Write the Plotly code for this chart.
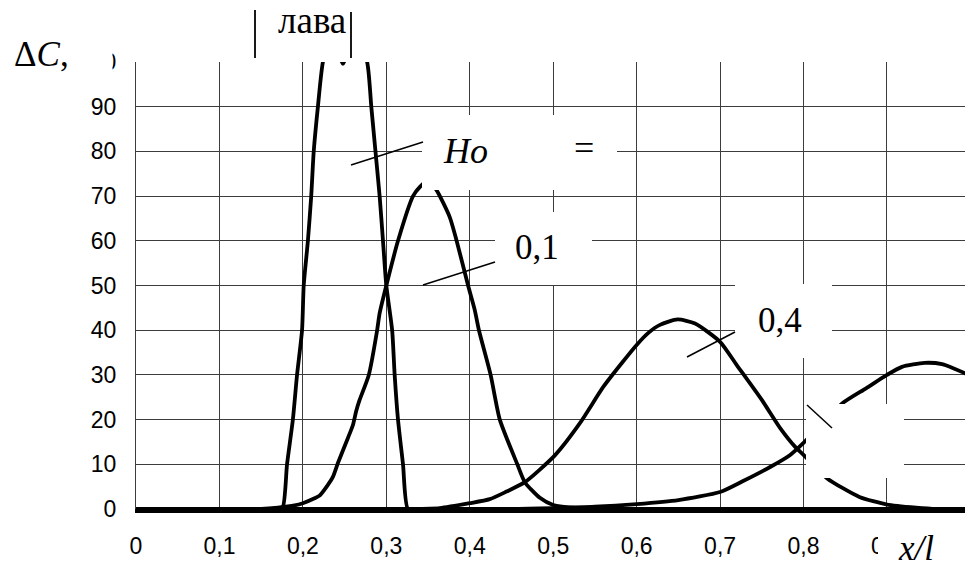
import plotly.graph_objects as go

# ---------------- data ----------------
x_ticks = [0, 0.1, 0.2, 0.3, 0.4, 0.5, 0.6, 0.7, 0.8, 0.9]
x_ticktext = ["0", "0,1", "0,2", "0,3", "0,4", "0,5", "0,6", "0,7", "0,8", "0,9"]
y_ticks = [0, 10, 20, 30, 40, 50, 60, 70, 80, 90, 100]
y_ticktext = ["0", "10", "20", "30", "40", "50", "60", "70", "80", "90", "100"]

# Ho = 0 (narrow peak, clipped above 100)
xa = [0, 0.17, 0.176, 0.181, 0.188, 0.193, 0.199, 0.201, 0.206, 0.21, 0.213, 0.218,
      0.224, 0.235, 0.248, 0.262, 0.277, 0.282, 0.287, 0.292, 0.296, 0.300, 0.307,
      0.310, 0.314, 0.320, 0.326, 0.34, 1.0]
ya = [0, 0, 0.5, 10, 20, 30, 40, 50, 60, 70, 80, 90,
      100, 107, 99.6, 107, 100, 90, 80, 70, 60, 50, 40,
      30, 20, 10, 0, 0, 0]

# Ho = 0,1
xb = [0, 0.15, 0.17, 0.19, 0.2, 0.214, 0.22, 0.23, 0.236, 0.242, 0.254, 0.26, 0.264,
      0.268, 0.279, 0.289, 0.292, 0.300, 0.314, 0.332, 0.34, 0.35, 0.36, 0.376, 0.384,
      0.398, 0.406, 0.411, 0.425, 0.436, 0.457, 0.466, 0.484, 0.5, 0.53, 0.56, 1.0]
yb = [0, 0, 0.3, 0.8, 1.3, 2.4, 3, 5.4, 7.2, 10.3, 15.9, 18.8, 22,
      24.4, 30, 40, 43.8, 50, 60, 70, 72, 73.5, 71.4, 65.3, 60.2,
      50, 44.5, 40, 30, 20, 10, 6, 2.5, 0.9, 0.2, 0, 0]

# Ho = 0,4
xc = [0, 0.33, 0.364, 0.4, 0.424, 0.444, 0.466, 0.502, 0.532, 0.56, 0.582, 0.6, 0.614,
      0.628, 0.649, 0.67, 0.7, 0.72, 0.75, 0.772, 0.79, 0.8, 0.828, 0.867, 0.9, 0.935,
      0.96, 1.0]
yc = [0, 0, 0.2, 1.3, 2.2, 3.9, 6, 12, 19.2, 27.3, 32.6, 36.7, 39.4,
      41.2, 42.4, 41.5, 37.4, 32.2, 24.4, 18.1, 13.9, 12.1, 6.9, 2.7, 1, 0.3,
      0, 0]

# Ho = 1 (hidden label)
xd = [0, 0.45, 0.5, 0.55, 0.6, 0.65, 0.7, 0.727, 0.76, 0.784, 0.8, 0.847, 0.875, 0.9,
      0.918, 0.945, 0.966, 0.993, 1.0]
yd = [0, 0, 0.2, 0.5, 1.1, 2, 3.8, 6.2, 9.4, 12.1, 14.8, 23.7, 27, 30,
      31.8, 32.7, 32.4, 30.4, 29.5]

# ---------------- geometry (pixels of the 965x564 picture) ----------------
W, H = 965, 564
L, R, T, B = 136, 965, 62, 509
X_PER_UNIT = 834.4
X_MAX = (R - L) / X_PER_UNIT
Y_MAX = 100


def dx(px):  # pixel -> data x
    return (px - L) / X_PER_UNIT


def dy(py):  # pixel -> data y
    return (B - py) / (B - T) * Y_MAX


def qx(px):  # pixel -> paper x
    return (px - L) / (R - L)


def qy(py):  # pixel -> paper y
    return (B - py) / (B - T)


SERIF = "Liberation Serif"
SANS = "Liberation Sans"

fig = go.Figure()
for xs, ys in [(xa, ya), (xb, yb), (xc, yc), (xd, yd)]:
    fig.add_trace(go.Scatter(x=xs, y=ys, mode="lines",
                             line=dict(color="black", width=3.8, shape="spline",
                                       smoothing=0.6),
                             showlegend=False, hoverinfo="skip"))

shapes = []


def mask_data(x0, y0, x1, y1):
    shapes.append(dict(type="rect", xref="x", yref="y", x0=dx(x0), x1=dx(x1),
                       y0=dy(y1), y1=dy(y0), fillcolor="white",
                       line=dict(width=0), layer="above"))


def mask_paper(x0, y0, x1, y1):
    shapes.append(dict(type="rect", xref="paper", yref="paper", x0=qx(x0), x1=qx(x1),
                       y0=qy(y1), y1=qy(y0), fillcolor="white",
                       line=dict(width=0), layer="above"))


def seg_data(x0, y0, x1, y1, w=1.5):
    shapes.append(dict(type="line", xref="x", yref="y", x0=dx(x0), y0=dy(y0),
                       x1=dx(x1), y1=dy(y1), line=dict(color="black", width=w),
                       layer="above"))


def seg_paper(x0, y0, x1, y1, w=1.5):
    shapes.append(dict(type="line", xref="paper", yref="paper", x0=qx(x0), y0=qy(y0),
                       x1=qx(x1), y1=qy(y1), line=dict(color="black", width=w),
                       layer="above"))


# label boxes covering grid and curves
mask_data(422, 115, 617, 190)   # Ho =
mask_data(495, 212, 592, 285)   # 0,1
mask_data(735, 284, 832, 350)   # 0,4
mask_data(780, 350, 832, 358)
mask_data(806, 404, 904, 478)   # hidden label
# outside masks
mask_paper(55, 40, 112.5, 80)   # over "100"
mask_paper(878, 518, 965, 564)  # over ",9"

# leader lines
seg_data(351, 165, 423, 142)
seg_data(423, 285, 495, 262)
seg_data(687, 357, 735, 332)
seg_data(807, 405, 832, 428)
# bars around "лава"
seg_paper(255, 10, 255, 58, 1.8)
seg_paper(351, 12, 351, 58, 1.8)

annotations = []


def label(text, px, py, size):
    annotations.append(dict(text=text, xref="paper", yref="paper", x=qx(px), y=qy(py),
                            xanchor="center", yanchor="middle", showarrow=False,
                            font=dict(family=SERIF, size=size, color="black")))


label("Δ<i>C</i>,", 41, 55, 35)
label("лава", 312, 21, 37)
label("<i>Ho</i>", 465, 151, 36)
label("=", 584, 148, 36)
label("0,1", 537, 247, 35)
label("0,4", 780, 320, 35)
label("<i>x/l</i>", 916, 548, 35)

fig.update_layout(
    width=W, height=H,
    margin=dict(l=L, r=W - R, t=T, b=H - B, pad=0),
    paper_bgcolor="white", plot_bgcolor="white",
    shapes=shapes, annotations=annotations,
    xaxis=dict(range=[0, X_MAX], tickvals=x_ticks, ticktext=x_ticktext,
               showgrid=True, gridcolor="#3c3c3c", gridwidth=1,
               zeroline=False, showline=True, linecolor="black", linewidth=3.5,
               ticks="", ticklabelstandoff=14, automargin=False,
               tickfont=dict(family=SANS, size=23, color="black")),
    yaxis=dict(range=[0, Y_MAX], tickvals=y_ticks, ticktext=y_ticktext,
               showgrid=True, gridcolor="#3c3c3c", gridwidth=1,
               zeroline=False, showline=True, linecolor="#3c3c3c", linewidth=1,
               ticks="inside", ticklen=8, tickcolor="#3c3c3c", tickwidth=1,
               ticklabelstandoff=14, automargin=False,
               tickfont=dict(family=SANS, size=23, color="black")),
)

fig.write_html(
    "out.html",
    config={"displayModeBar": False},
    post_script="document.body.style.margin='0';document.body.style.overflow='hidden';",
)
